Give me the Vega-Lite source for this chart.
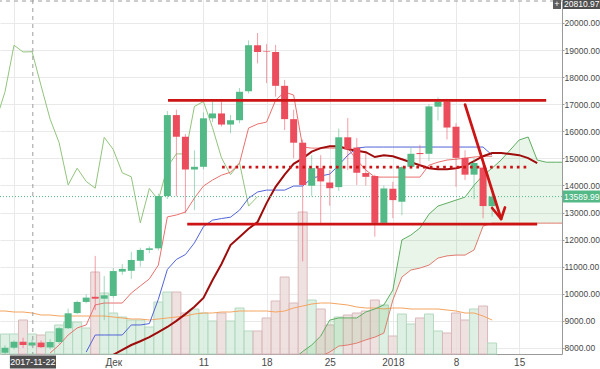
{
  "$schema": "https://vega.github.io/schema/vega-lite/v6.json",
  "width": 562,
  "height": 354,
  "autosize": {"type": "none"},
  "padding": {"left": 0, "top": 0, "right": 38, "bottom": 15},
  "background": "white",
  "config": {"view": {"stroke": null}, "font": "Liberation Sans", "axisY": {"labelOverlap": false, "labelFlush": false, "tickCount": 13}},
  "datasets": {
    "candles": [
      {"date": "2017-11-19", "open": 7820, "high": 8100, "low": 7780, "close": 8010, "volume": 20},
      {"date": "2017-11-20", "open": 8010, "high": 8280, "low": 7950, "close": 8230, "volume": 20},
      {"date": "2017-11-21", "open": 8230, "high": 8380, "low": 8000, "close": 8110, "volume": 34},
      {"date": "2017-11-22", "open": 8090, "high": 8300, "low": 8050, "close": 8200, "volume": 20},
      {"date": "2017-11-23", "open": 8200, "high": 8280, "low": 8000, "close": 8030, "volume": 19},
      {"date": "2017-11-24", "open": 8020, "high": 8330, "low": 7950, "close": 8220, "volume": 22},
      {"date": "2017-11-25", "open": 8220, "high": 8770, "low": 8150, "close": 8730, "volume": 29},
      {"date": "2017-11-26", "open": 8730, "high": 9450, "low": 8700, "close": 9280, "volume": 32},
      {"date": "2017-11-27", "open": 9290, "high": 9750, "low": 9250, "close": 9700, "volume": 32},
      {"date": "2017-11-28", "open": 9700, "high": 9980, "low": 9650, "close": 9860, "volume": 26},
      {"date": "2017-11-29", "open": 9890, "high": 11400, "low": 9400, "close": 9820, "volume": 82},
      {"date": "2017-11-30", "open": 9820, "high": 10660, "low": 9030, "close": 9945, "volume": 61},
      {"date": "2017-12-01", "open": 9920, "high": 10950, "low": 9850, "close": 10840, "volume": 41},
      {"date": "2017-12-02", "open": 10820, "high": 11100, "low": 10700, "close": 10920, "volume": 37},
      {"date": "2017-12-03", "open": 10850, "high": 11550, "low": 10550, "close": 11250, "volume": 34},
      {"date": "2017-12-04", "open": 11220, "high": 11700, "low": 11000, "close": 11620, "volume": 34},
      {"date": "2017-12-05", "open": 11620, "high": 11750, "low": 11500, "close": 11680, "volume": 27},
      {"date": "2017-12-06", "open": 11680, "high": 13700, "low": 11600, "close": 13610, "volume": 52},
      {"date": "2017-12-07", "open": 13610, "high": 16750, "low": 13500, "close": 16600, "volume": 62},
      {"date": "2017-12-08", "open": 16600, "high": 16800, "low": 13600, "close": 15800, "volume": 62},
      {"date": "2017-12-09", "open": 15800, "high": 15900, "low": 12980, "close": 14590, "volume": 41},
      {"date": "2017-12-10", "open": 14590, "high": 15300, "low": 13090, "close": 14690, "volume": 45},
      {"date": "2017-12-11", "open": 14690, "high": 16700, "low": 14600, "close": 16480, "volume": 41},
      {"date": "2017-12-12", "open": 16480, "high": 17100, "low": 16340, "close": 16660, "volume": 33},
      {"date": "2017-12-13", "open": 16660, "high": 17100, "low": 16180, "close": 16250, "volume": 41},
      {"date": "2017-12-14", "open": 16250, "high": 16600, "low": 15930, "close": 16410, "volume": 33},
      {"date": "2017-12-15", "open": 16410, "high": 17600, "low": 16300, "close": 17460, "volume": 46},
      {"date": "2017-12-16", "open": 17480, "high": 19360, "low": 17400, "close": 19180, "volume": 23},
      {"date": "2017-12-17", "open": 19180, "high": 19630, "low": 18510, "close": 18930, "volume": 23},
      {"date": "2017-12-18", "open": 18960, "high": 19220, "low": 17780, "close": 18940, "volume": 36},
      {"date": "2017-12-19", "open": 18930, "high": 19190, "low": 17280, "close": 17680, "volume": 53},
      {"date": "2017-12-20", "open": 17680, "high": 17900, "low": 16050, "close": 16450, "volume": 77},
      {"date": "2017-12-21", "open": 16450, "high": 16800, "low": 15010, "close": 15580, "volume": 51},
      {"date": "2017-12-22", "open": 15580, "high": 15700, "low": 11200, "close": 14020, "volume": 142},
      {"date": "2017-12-23", "open": 13990, "high": 15120, "low": 13590, "close": 14640, "volume": 54},
      {"date": "2017-12-24", "open": 14640, "high": 15120, "low": 12550, "close": 14150, "volume": 45},
      {"date": "2017-12-25", "open": 14110, "high": 14570, "low": 13250, "close": 13900, "volume": 29},
      {"date": "2017-12-26", "open": 13940, "high": 16100, "low": 13800, "close": 15780, "volume": 37},
      {"date": "2017-12-27", "open": 15780, "high": 16490, "low": 14570, "close": 15330, "volume": 39},
      {"date": "2017-12-28", "open": 15400, "high": 15750, "low": 14020, "close": 14470, "volume": 41},
      {"date": "2017-12-29", "open": 14460, "high": 15200, "low": 14000, "close": 14320, "volume": 43},
      {"date": "2017-12-30", "open": 14350, "high": 14400, "low": 12110, "close": 12620, "volume": 54},
      {"date": "2017-12-31", "open": 12620, "high": 14000, "low": 12600, "close": 13890, "volume": 49},
      {"date": "2018-01-01", "open": 13880, "high": 14140, "low": 12790, "close": 13460, "volume": 18},
      {"date": "2018-01-02", "open": 13400, "high": 14720, "low": 12900, "close": 14680, "volume": 40},
      {"date": "2018-01-03", "open": 14690, "high": 15400, "low": 14600, "close": 15170, "volume": 30},
      {"date": "2018-01-04", "open": 15200, "high": 15500, "low": 14700, "close": 15160, "volume": 36},
      {"date": "2018-01-05", "open": 15170, "high": 17000, "low": 14900, "close": 16920, "volume": 40},
      {"date": "2018-01-06", "open": 16910, "high": 17250, "low": 16400, "close": 17100, "volume": 23},
      {"date": "2018-01-07", "open": 17100, "high": 17200, "low": 15700, "close": 16140, "volume": 21},
      {"date": "2018-01-08", "open": 16170, "high": 16300, "low": 13950, "close": 15020, "volume": 41},
      {"date": "2018-01-09", "open": 15020, "high": 15300, "low": 14200, "close": 14400, "volume": 34},
      {"date": "2018-01-10", "open": 14400, "high": 15010, "low": 13500, "close": 14830, "volume": 45},
      {"date": "2018-01-11", "open": 14660, "high": 14900, "low": 12790, "close": 13240, "volume": 48},
      {"date": "2018-01-12", "open": 13240, "high": 13700, "low": 12850, "close": 13590, "volume": 11}
    ],
    "ind": [
      {"date": "2017-11-18", "chikou": 16410, "volma": 43},
      {"date": "2017-11-19", "chikou": 17460, "volma": 43},
      {"date": "2017-11-20", "chikou": 19180, "volma": 42},
      {"date": "2017-11-21", "chikou": 18930, "volma": 42},
      {"date": "2017-11-22", "chikou": 18940, "volma": 41},
      {"date": "2017-11-23", "chikou": 17680, "volma": 39},
      {"date": "2017-11-24", "chikou": 16450, "tenkan": 7815, "volma": 39},
      {"date": "2017-11-25", "chikou": 15580, "tenkan": 8110, "volma": 38},
      {"date": "2017-11-26", "chikou": 14020, "tenkan": 8480, "volma": 38},
      {"date": "2017-11-27", "chikou": 14640, "tenkan": 8740, "volma": 38},
      {"date": "2017-11-28", "chikou": 14150, "tenkan": 8850, "kijun": 7850, "volma": 38},
      {"date": "2017-11-29", "chikou": 13900, "tenkan": 9590, "kijun": 8480, "volma": 38},
      {"date": "2017-11-30", "chikou": 15780, "tenkan": 9660, "kijun": 8480, "volma": 38},
      {"date": "2017-12-01", "chikou": 15330, "tenkan": 9660, "kijun": 8480, "ma": 7750, "volma": 37},
      {"date": "2017-12-02", "chikou": 14470, "tenkan": 9660, "kijun": 8480, "ma": 7930, "volma": 36},
      {"date": "2017-12-03", "chikou": 14320, "tenkan": 10030, "kijun": 8850, "ma": 8110, "volma": 35},
      {"date": "2017-12-04", "chikou": 12620, "tenkan": 10290, "kijun": 8850, "ma": 8250, "volma": 35},
      {"date": "2017-12-05", "chikou": 13890, "tenkan": 10550, "kijun": 8900, "ma": 8400, "volma": 34},
      {"date": "2017-12-06", "chikou": 13460, "tenkan": 11060, "kijun": 9800, "ma": 8590, "volma": 35},
      {"date": "2017-12-07", "chikou": 14680, "tenkan": 12840, "kijun": 10900, "ma": 8775, "volma": 36},
      {"date": "2017-12-08", "chikou": 15170, "tenkan": 12910, "kijun": 11270, "ma": 9000, "volma": 37},
      {"date": "2017-12-09", "chikou": 15160, "tenkan": 13020, "kijun": 11450, "ma": 9250, "volma": 38},
      {"date": "2017-12-10", "chikou": 16920, "tenkan": 13535, "kijun": 11880, "ma": 9520, "volma": 40},
      {"date": "2017-12-11", "chikou": 17100, "tenkan": 13980, "kijun": 12480, "ma": 9845, "volma": 41},
      {"date": "2017-12-12", "chikou": 16140, "tenkan": 14200, "kijun": 12720, "ma": 10500, "volma": 41},
      {"date": "2017-12-13", "chikou": 15020, "tenkan": 14380, "kijun": 12780, "ma": 11100, "volma": 42},
      {"date": "2017-12-14", "chikou": 14400, "tenkan": 14490, "kijun": 12830, "ma": 11800, "volma": 42},
      {"date": "2017-12-15", "chikou": 14830, "tenkan": 14830, "kijun": 13090, "ma": 12100, "volma": 43},
      {"date": "2017-12-16", "chikou": 13240, "tenkan": 16120, "kijun": 13530, "ma": 12400, "volma": 43},
      {"date": "2017-12-17", "chikou": 13590, "tenkan": 16270, "kijun": 13760, "ma": 12650, "volma": 43},
      {"date": "2017-12-18", "tenkan": 16340, "kijun": 13830, "ma": 13350, "volma": 43},
      {"date": "2017-12-19", "tenkan": 17150, "kijun": 13830, "ma": 13950, "volma": 42},
      {"date": "2017-12-20", "tenkan": 17450, "kijun": 13830, "ma": 14400, "volma": 43},
      {"date": "2017-12-21", "tenkan": 17340, "kijun": 13980, "ma": 14800, "volma": 46, "spanA": 7600, "spanB": 7200},
      {"date": "2017-12-22", "tenkan": 15420, "kijun": 13980, "ma": 15000, "volma": 48, "spanA": 7870, "spanB": 7300},
      {"date": "2017-12-23", "tenkan": 15380, "kijun": 14270, "ma": 15250, "volma": 50, "spanA": 8110, "spanB": 7500},
      {"date": "2017-12-24", "tenkan": 15380, "kijun": 14350, "ma": 15380, "volma": 51, "spanA": 8440, "spanB": 7700},
      {"date": "2017-12-25", "tenkan": 15380, "kijun": 14420, "ma": 15450, "volma": 51, "spanA": 9030, "spanB": 7850},
      {"date": "2017-12-26", "tenkan": 15380, "kijun": 14750, "ma": 15450, "volma": 50, "spanA": 9110, "spanB": 8070},
      {"date": "2017-12-27", "tenkan": 15380, "kijun": 15120, "ma": 15350, "volma": 49, "spanA": 9110, "spanB": 8110},
      {"date": "2017-12-28", "tenkan": 14940, "kijun": 15380, "ma": 15280, "volma": 47, "spanA": 9110, "spanB": 8180},
      {"date": "2017-12-29", "tenkan": 14570, "kijun": 15420, "ma": 15230, "volma": 46, "spanA": 9330, "spanB": 8300},
      {"date": "2017-12-30", "tenkan": 14310, "kijun": 15420, "ma": 15050, "volma": 46, "spanA": 9440, "spanB": 8400},
      {"date": "2017-12-31", "tenkan": 14310, "kijun": 15420, "ma": 15120, "volma": 45, "spanA": 9590, "spanB": 8550},
      {"date": "2018-01-01", "tenkan": 14310, "kijun": 15420, "ma": 15080, "volma": 46, "spanA": 10140, "spanB": 9770},
      {"date": "2018-01-02", "tenkan": 14310, "kijun": 15420, "ma": 14970, "volma": 46, "spanA": 11990, "spanB": 10620},
      {"date": "2018-01-03", "tenkan": 14310, "kijun": 15420, "ma": 14860, "volma": 45, "spanA": 12170, "spanB": 10880},
      {"date": "2018-01-04", "tenkan": 14310, "kijun": 15420, "ma": 14750, "volma": 45, "spanA": 12430, "spanB": 10950},
      {"date": "2018-01-05", "tenkan": 14750, "kijun": 15420, "ma": 14640, "volma": 45, "spanA": 12940, "spanB": 11060},
      {"date": "2018-01-06", "tenkan": 14860, "kijun": 15420, "ma": 14600, "volma": 45, "spanA": 13240, "spanB": 11320},
      {"date": "2018-01-07", "tenkan": 14940, "kijun": 15420, "ma": 14600, "volma": 44, "spanA": 13350, "spanB": 11400},
      {"date": "2018-01-08", "tenkan": 14970, "kijun": 15420, "ma": 14640, "volma": 43, "spanA": 13460, "spanB": 11430},
      {"date": "2018-01-09", "tenkan": 15010, "kijun": 15420, "ma": 14720, "volma": 41, "spanA": 13570, "spanB": 11430},
      {"date": "2018-01-10", "tenkan": 15050, "kijun": 15420, "ma": 14900, "volma": 41, "spanA": 14010, "spanB": 11620},
      {"date": "2018-01-11", "tenkan": 15080, "kijun": 15420, "ma": 15080, "volma": 38, "spanA": 14380, "spanB": 12500},
      {"date": "2018-01-12", "tenkan": 15080, "kijun": 15120, "ma": 15200, "volma": 34, "spanA": 14640, "spanB": 12610},
      {"date": "2018-01-13", "ma": 15200, "spanA": 14940, "spanB": 12610},
      {"date": "2018-01-14", "ma": 15160, "spanA": 15310, "spanB": 12610},
      {"date": "2018-01-15", "ma": 15120, "spanA": 15680, "spanB": 12610},
      {"date": "2018-01-16", "ma": 15010, "spanA": 15790, "spanB": 12610},
      {"date": "2018-01-17", "ma": 14830, "spanA": 14940, "spanB": 12610},
      {"date": "2018-01-18", "spanA": 14860, "spanB": 12610},
      {"date": "2018-01-19", "spanA": 14860, "spanB": 12610},
      {"date": "2018-01-20", "spanA": 14860, "spanB": 12610}
    ],
    "levels": [
      {"start": "2017-12-07T01:40:00Z", "end": "2018-01-18T00:00:00Z", "price": 17140},
      {"start": "2017-12-09T04:50:00Z", "end": "2018-01-17T00:00:00Z", "price": 12570}
    ],
    "dotted": [
      {"start": "2017-12-13T01:30:00Z", "end": "2018-01-16T00:00:00Z", "price": 14680}
    ],
    "arrow": [
      {"part": "shaft", "ord": 1, "date": "2018-01-09T00:00:00Z", "price": 16990},
      {"part": "shaft", "ord": 2, "date": "2018-01-13T00:00:00Z", "price": 12763},
      {"part": "head", "ord": 1, "date": "2018-01-12T00:00:00Z", "price": 13169},
      {"part": "head", "ord": 2, "date": "2018-01-13T00:00:00Z", "price": 12763},
      {"part": "head", "ord": 3, "date": "2018-01-13T10:20:00Z", "price": 13190}
    ]
  },
  "layer": [
    {
      "layer": [
        {
          "data": {"name": "candles"},
          "mark": {"type": "bar", "width": 9, "strokeWidth": 1, "fillOpacity": 0.8},
          "encoding": {
            "x": {
              "field": "date", "type": "temporal",
              "scale": {"type": "utc", "padding": 0, "domain": [{"year": 2017, "month": 11, "date": 18, "hours": 10, "minutes": 40, "utc": true}, {"year": 2018, "month": 1, "date": 19, "hours": 18, "utc": true}]},
              "axis": {
                "orient": "bottom", "title": null,
                "values": [
                  {"year": 2017, "month": 11, "date": 20, "utc": true},
                  {"year": 2017, "month": 12, "date": 1, "utc": true},
                  {"year": 2017, "month": 12, "date": 11, "utc": true},
                  {"year": 2017, "month": 12, "date": 18, "utc": true},
                  {"year": 2017, "month": 12, "date": 25, "utc": true},
                  {"year": 2018, "month": 1, "date": 1, "utc": true},
                  {"year": 2018, "month": 1, "date": 8, "utc": true},
                  {"year": 2018, "month": 1, "date": 15, "utc": true}
                ],
                "labelExpr": "utcmonth(datum.value)==0 && utcdate(datum.value)==1 ? '2018' : (utcdate(datum.value)==1 ? 'Дек' : (utcmonth(datum.value)==10 ? '' : utcFormat(datum.value, '%-d')))",
                "grid": true, "gridColor": "#e9e9e9", "tickSize": 0, "domainColor": "#9a9a9a",
                "labelColor": "#4a4a4a", "labelFontSize": 10, "labelPadding": 3,
                "labelOverlap": false, "labelFlush": false
              }
            },
            "y": {"field": "volume", "type": "quantitative", "scale": {"domain": [0, 354], "nice": false, "zero": true}, "axis": null},
            "fill": {"condition": {"test": "datum.close >= datum.open", "value": "#d6ecdc"}, "value": "#ecd9da"},
            "stroke": {"condition": {"test": "datum.close >= datum.open", "value": "#b3d8bf"}, "value": "#d9b9bb"}
          }
        },
        {
          "data": {"name": "ind"},
          "mark": {"type": "line", "stroke": "#f4a460", "strokeWidth": 1, "clip": true},
          "encoding": {
            "x": {"field": "date", "type": "temporal", "title": null, "scale": {"type": "utc", "padding": 0, "domain": [{"year": 2017, "month": 11, "date": 18, "hours": 10, "minutes": 40, "utc": true}, {"year": 2018, "month": 1, "date": 19, "hours": 18, "utc": true}]}},
            "y": {"field": "volma", "type": "quantitative", "scale": {"domain": [0, 354], "nice": false, "zero": true}, "axis": null}
          }
        }
      ]
    },
    {
      "layer": [
        {
          "data": {"name": "ind"},
          "mark": {"type": "area", "fill": "#4caf50", "fillOpacity": 0.13, "clip": true},
          "encoding": {
            "x": {"field": "date", "type": "temporal", "title": null, "scale": {"type": "utc", "padding": 0, "domain": [{"year": 2017, "month": 11, "date": 18, "hours": 10, "minutes": 40, "utc": true}, {"year": 2018, "month": 1, "date": 19, "hours": 18, "utc": true}]}},
            "y": {"field": "spanA", "type": "quantitative", "scale": {"domain": [7778, 20849], "nice": false, "zero": false},
              "axis": {"orient": "right", "title": null, "values": [8000, 9000, 10000, 11000, 12000, 13000, 14000, 15000, 16000, 17000, 18000, 19000, 20000], "format": ".2f", "grid": true, "gridColor": "#e9e9e9", "tickSize": 2, "tickColor": "#9a9a9a", "domainColor": "#9a9a9a", "labelColor": "#4a4a4a", "labelFontSize": 8.5, "labelPadding": 0, "labelOverlap": false, "labelFlush": false}},
            "y2": {"field": "spanB"}
          }
        },
        {
          "data": {"name": "ind"},
          "mark": {"type": "line", "stroke": "#df7b6e", "strokeWidth": 1, "clip": true},
          "encoding": {
            "x": {"field": "date", "type": "temporal", "title": null, "scale": {"type": "utc", "padding": 0, "domain": [{"year": 2017, "month": 11, "date": 18, "hours": 10, "minutes": 40, "utc": true}, {"year": 2018, "month": 1, "date": 19, "hours": 18, "utc": true}]}},
            "y": {"field": "spanB", "type": "quantitative", "scale": {"domain": [7778, 20849], "nice": false, "zero": false},
              "axis": {"orient": "right", "title": null, "values": [8000, 9000, 10000, 11000, 12000, 13000, 14000, 15000, 16000, 17000, 18000, 19000, 20000], "format": ".2f", "grid": true, "gridColor": "#e9e9e9", "tickSize": 2, "tickColor": "#9a9a9a", "domainColor": "#9a9a9a", "labelColor": "#4a4a4a", "labelFontSize": 8.5, "labelPadding": 0, "labelOverlap": false, "labelFlush": false}}
          }
        },
        {
          "data": {"name": "ind"},
          "mark": {"type": "line", "stroke": "#5fae62", "strokeWidth": 1, "clip": true},
          "encoding": {
            "x": {"field": "date", "type": "temporal", "title": null, "scale": {"type": "utc", "padding": 0, "domain": [{"year": 2017, "month": 11, "date": 18, "hours": 10, "minutes": 40, "utc": true}, {"year": 2018, "month": 1, "date": 19, "hours": 18, "utc": true}]}},
            "y": {"field": "spanA", "type": "quantitative", "scale": {"domain": [7778, 20849], "nice": false, "zero": false},
              "axis": {"orient": "right", "title": null, "values": [8000, 9000, 10000, 11000, 12000, 13000, 14000, 15000, 16000, 17000, 18000, 19000, 20000], "format": ".2f", "grid": true, "gridColor": "#e9e9e9", "tickSize": 2, "tickColor": "#9a9a9a", "domainColor": "#9a9a9a", "labelColor": "#4a4a4a", "labelFontSize": 8.5, "labelPadding": 0, "labelOverlap": false, "labelFlush": false}}
          }
        },
        {
          "data": {"name": "ind"},
          "mark": {"type": "line", "stroke": "#93c47d", "strokeWidth": 1, "clip": true},
          "encoding": {
            "x": {"field": "date", "type": "temporal", "title": null, "scale": {"type": "utc", "padding": 0, "domain": [{"year": 2017, "month": 11, "date": 18, "hours": 10, "minutes": 40, "utc": true}, {"year": 2018, "month": 1, "date": 19, "hours": 18, "utc": true}]}},
            "y": {"field": "chikou", "type": "quantitative", "scale": {"domain": [7778, 20849], "nice": false, "zero": false},
              "axis": {"orient": "right", "title": null, "values": [8000, 9000, 10000, 11000, 12000, 13000, 14000, 15000, 16000, 17000, 18000, 19000, 20000], "format": ".2f", "grid": true, "gridColor": "#e9e9e9", "tickSize": 2, "tickColor": "#9a9a9a", "domainColor": "#9a9a9a", "labelColor": "#4a4a4a", "labelFontSize": 8.5, "labelPadding": 0, "labelOverlap": false, "labelFlush": false}}
          }
        },
        {
          "data": {"name": "ind"},
          "mark": {"type": "line", "stroke": "#5063d8", "strokeWidth": 1, "clip": true},
          "encoding": {
            "x": {"field": "date", "type": "temporal", "title": null, "scale": {"type": "utc", "padding": 0, "domain": [{"year": 2017, "month": 11, "date": 18, "hours": 10, "minutes": 40, "utc": true}, {"year": 2018, "month": 1, "date": 19, "hours": 18, "utc": true}]}},
            "y": {"field": "kijun", "type": "quantitative", "scale": {"domain": [7778, 20849], "nice": false, "zero": false},
              "axis": {"orient": "right", "title": null, "values": [8000, 9000, 10000, 11000, 12000, 13000, 14000, 15000, 16000, 17000, 18000, 19000, 20000], "format": ".2f", "grid": true, "gridColor": "#e9e9e9", "tickSize": 2, "tickColor": "#9a9a9a", "domainColor": "#9a9a9a", "labelColor": "#4a4a4a", "labelFontSize": 8.5, "labelPadding": 0, "labelOverlap": false, "labelFlush": false}}
          }
        },
        {
          "data": {"name": "ind"},
          "mark": {"type": "line", "stroke": "#e8716e", "strokeWidth": 1, "clip": true},
          "encoding": {
            "x": {"field": "date", "type": "temporal", "title": null, "scale": {"type": "utc", "padding": 0, "domain": [{"year": 2017, "month": 11, "date": 18, "hours": 10, "minutes": 40, "utc": true}, {"year": 2018, "month": 1, "date": 19, "hours": 18, "utc": true}]}},
            "y": {"field": "tenkan", "type": "quantitative", "scale": {"domain": [7778, 20849], "nice": false, "zero": false},
              "axis": {"orient": "right", "title": null, "values": [8000, 9000, 10000, 11000, 12000, 13000, 14000, 15000, 16000, 17000, 18000, 19000, 20000], "format": ".2f", "grid": true, "gridColor": "#e9e9e9", "tickSize": 2, "tickColor": "#9a9a9a", "domainColor": "#9a9a9a", "labelColor": "#4a4a4a", "labelFontSize": 8.5, "labelPadding": 0, "labelOverlap": false, "labelFlush": false}}
          }
        },
        {
          "data": {"name": "ind"},
          "mark": {"type": "line", "stroke": "#9e0c0c", "strokeWidth": 2, "clip": true},
          "encoding": {
            "x": {"field": "date", "type": "temporal", "title": null, "scale": {"type": "utc", "padding": 0, "domain": [{"year": 2017, "month": 11, "date": 18, "hours": 10, "minutes": 40, "utc": true}, {"year": 2018, "month": 1, "date": 19, "hours": 18, "utc": true}]}},
            "y": {"field": "ma", "type": "quantitative", "scale": {"domain": [7778, 20849], "nice": false, "zero": false},
              "axis": {"orient": "right", "title": null, "values": [8000, 9000, 10000, 11000, 12000, 13000, 14000, 15000, 16000, 17000, 18000, 19000, 20000], "format": ".2f", "grid": true, "gridColor": "#e9e9e9", "tickSize": 2, "tickColor": "#9a9a9a", "domainColor": "#9a9a9a", "labelColor": "#4a4a4a", "labelFontSize": 8.5, "labelPadding": 0, "labelOverlap": false, "labelFlush": false}}
          }
        },
        {
          "data": {"values": [{"label": "13589.99", "price": 13589.99}]},
          "mark": {"type": "rule", "stroke": "#53b987", "strokeWidth": 1, "strokeDash": [1, 2]},
          "encoding": {
            "y": {"field": "price", "type": "quantitative", "scale": {"domain": [7778, 20849], "nice": false, "zero": false},
              "axis": {"orient": "right", "title": null, "values": [8000, 9000, 10000, 11000, 12000, 13000, 14000, 15000, 16000, 17000, 18000, 19000, 20000], "format": ".2f", "grid": true, "gridColor": "#e9e9e9", "tickSize": 2, "tickColor": "#9a9a9a", "domainColor": "#9a9a9a", "labelColor": "#4a4a4a", "labelFontSize": 8.5, "labelPadding": 0, "labelOverlap": false, "labelFlush": false}}
          }
        },
        {
          "data": {"name": "candles"},
          "mark": {"type": "rule", "strokeWidth": 1, "opacity": 0.55},
          "encoding": {
            "x": {"field": "date", "type": "temporal", "title": null, "scale": {"type": "utc", "padding": 0, "domain": [{"year": 2017, "month": 11, "date": 18, "hours": 10, "minutes": 40, "utc": true}, {"year": 2018, "month": 1, "date": 19, "hours": 18, "utc": true}]}},
            "y": {"field": "low", "type": "quantitative", "scale": {"domain": [7778, 20849], "nice": false, "zero": false},
              "axis": {"orient": "right", "title": null, "values": [8000, 9000, 10000, 11000, 12000, 13000, 14000, 15000, 16000, 17000, 18000, 19000, 20000], "format": ".2f", "grid": true, "gridColor": "#e9e9e9", "tickSize": 2, "tickColor": "#9a9a9a", "domainColor": "#9a9a9a", "labelColor": "#4a4a4a", "labelFontSize": 8.5, "labelPadding": 0, "labelOverlap": false, "labelFlush": false}},
            "y2": {"field": "high"},
            "color": {"condition": {"test": "datum.close >= datum.open", "value": "#53b987"}, "value": "#eb4d5c"}
          }
        },
        {
          "data": {"name": "candles"},
          "mark": {"type": "bar", "width": 7},
          "encoding": {
            "x": {"field": "date", "type": "temporal", "title": null, "scale": {"type": "utc", "padding": 0, "domain": [{"year": 2017, "month": 11, "date": 18, "hours": 10, "minutes": 40, "utc": true}, {"year": 2018, "month": 1, "date": 19, "hours": 18, "utc": true}]}},
            "y": {"field": "open", "type": "quantitative", "scale": {"domain": [7778, 20849], "nice": false, "zero": false},
              "axis": {"orient": "right", "title": null, "values": [8000, 9000, 10000, 11000, 12000, 13000, 14000, 15000, 16000, 17000, 18000, 19000, 20000], "format": ".2f", "grid": true, "gridColor": "#e9e9e9", "tickSize": 2, "tickColor": "#9a9a9a", "domainColor": "#9a9a9a", "labelColor": "#4a4a4a", "labelFontSize": 8.5, "labelPadding": 0, "labelOverlap": false, "labelFlush": false}},
            "y2": {"field": "close"},
            "color": {"condition": {"test": "datum.close >= datum.open", "value": "#53b987"}, "value": "#eb4d5c"}
          }
        },
        {
          "data": {"name": "dotted"},
          "mark": {"type": "rule", "stroke": "#cc1414", "strokeWidth": 2.7, "strokeDash": [2.7, 4]},
          "encoding": {
            "x": {"field": "start", "type": "temporal", "title": null, "scale": {"type": "utc", "padding": 0, "domain": [{"year": 2017, "month": 11, "date": 18, "hours": 10, "minutes": 40, "utc": true}, {"year": 2018, "month": 1, "date": 19, "hours": 18, "utc": true}]}},
            "x2": {"field": "end"},
            "y": {"field": "price", "type": "quantitative", "scale": {"domain": [7778, 20849], "nice": false, "zero": false},
              "axis": {"orient": "right", "title": null, "values": [8000, 9000, 10000, 11000, 12000, 13000, 14000, 15000, 16000, 17000, 18000, 19000, 20000], "format": ".2f", "grid": true, "gridColor": "#e9e9e9", "tickSize": 2, "tickColor": "#9a9a9a", "domainColor": "#9a9a9a", "labelColor": "#4a4a4a", "labelFontSize": 8.5, "labelPadding": 0, "labelOverlap": false, "labelFlush": false}}
          }
        },
        {
          "data": {"name": "levels"},
          "mark": {"type": "rule", "stroke": "#cc1414", "strokeWidth": 2.7},
          "encoding": {
            "x": {"field": "start", "type": "temporal", "title": null, "scale": {"type": "utc", "padding": 0, "domain": [{"year": 2017, "month": 11, "date": 18, "hours": 10, "minutes": 40, "utc": true}, {"year": 2018, "month": 1, "date": 19, "hours": 18, "utc": true}]}},
            "x2": {"field": "end"},
            "y": {"field": "price", "type": "quantitative", "scale": {"domain": [7778, 20849], "nice": false, "zero": false},
              "axis": {"orient": "right", "title": null, "values": [8000, 9000, 10000, 11000, 12000, 13000, 14000, 15000, 16000, 17000, 18000, 19000, 20000], "format": ".2f", "grid": true, "gridColor": "#e9e9e9", "tickSize": 2, "tickColor": "#9a9a9a", "domainColor": "#9a9a9a", "labelColor": "#4a4a4a", "labelFontSize": 8.5, "labelPadding": 0, "labelOverlap": false, "labelFlush": false}}
          }
        },
        {
          "data": {"name": "arrow"},
          "mark": {"type": "line", "stroke": "#cc1414", "strokeWidth": 2.7, "strokeCap": "round", "strokeJoin": "round"},
          "encoding": {
            "x": {"field": "date", "type": "temporal", "title": null, "scale": {"type": "utc", "padding": 0, "domain": [{"year": 2017, "month": 11, "date": 18, "hours": 10, "minutes": 40, "utc": true}, {"year": 2018, "month": 1, "date": 19, "hours": 18, "utc": true}]}},
            "y": {"field": "price", "type": "quantitative", "scale": {"domain": [7778, 20849], "nice": false, "zero": false},
              "axis": {"orient": "right", "title": null, "values": [8000, 9000, 10000, 11000, 12000, 13000, 14000, 15000, 16000, 17000, 18000, 19000, 20000], "format": ".2f", "grid": true, "gridColor": "#e9e9e9", "tickSize": 2, "tickColor": "#9a9a9a", "domainColor": "#9a9a9a", "labelColor": "#4a4a4a", "labelFontSize": 8.5, "labelPadding": 0, "labelOverlap": false, "labelFlush": false}},
            "detail": {"field": "part"},
            "order": {"field": "ord"}
          }
        },
        {
          "data": {"values": [{"label": "crosshair"}]},
          "mark": {"type": "rule", "stroke": "#9c9c9c", "strokeWidth": 1, "strokeDash": [4, 4]},
          "encoding": {
            "x": {"datum": {"year": 2017, "month": 11, "date": 22, "hours": 2, "utc": true}, "type": "temporal", "title": null, "scale": {"type": "utc", "padding": 0, "domain": [{"year": 2017, "month": 11, "date": 18, "hours": 10, "minutes": 40, "utc": true}, {"year": 2018, "month": 1, "date": 19, "hours": 18, "utc": true}]}}
          }
        },
        {
          "data": {"values": [{"label": "crosshair", "price": 20810.97}]},
          "mark": {"type": "rule", "stroke": "#9c9c9c", "strokeWidth": 1, "strokeDash": [4, 4]},
          "encoding": {
            "y": {"field": "price", "type": "quantitative", "scale": {"domain": [7778, 20849], "nice": false, "zero": false},
              "axis": {"orient": "right", "title": null, "values": [8000, 9000, 10000, 11000, 12000, 13000, 14000, 15000, 16000, 17000, 18000, 19000, 20000], "format": ".2f", "grid": true, "gridColor": "#e9e9e9", "tickSize": 2, "tickColor": "#9a9a9a", "domainColor": "#9a9a9a", "labelColor": "#4a4a4a", "labelFontSize": 8.5, "labelPadding": 0, "labelOverlap": false, "labelFlush": false}}
          }
        },
        {
          "data": {"values": [{"label": "13589.99", "price": 13589.99}]},
          "layer": [
            {
              "mark": {"type": "rule", "stroke": "#53b987", "strokeWidth": 12, "strokeCap": "butt", "clip": false},
              "encoding": {
                "x": {"datum": {"year": 2018, "month": 1, "date": 19, "hours": 20, "minutes": 40, "utc": true}, "type": "temporal", "title": null, "scale": {"type": "utc", "padding": 0, "domain": [{"year": 2017, "month": 11, "date": 18, "hours": 10, "minutes": 40, "utc": true}, {"year": 2018, "month": 1, "date": 19, "hours": 18, "utc": true}]}},
                "x2": {"datum": {"year": 2018, "month": 1, "date": 23, "hours": 23, "utc": true}},
                "y": {"field": "price", "type": "quantitative", "scale": {"domain": [7778, 20849], "nice": false, "zero": false},
                  "axis": {"orient": "right", "title": null, "values": [8000, 9000, 10000, 11000, 12000, 13000, 14000, 15000, 16000, 17000, 18000, 19000, 20000], "format": ".2f", "grid": true, "gridColor": "#e9e9e9", "tickSize": 2, "tickColor": "#9a9a9a", "domainColor": "#9a9a9a", "labelColor": "#4a4a4a", "labelFontSize": 8.5, "labelPadding": 0, "labelOverlap": false, "labelFlush": false}}
              }
            },
            {
              "mark": {"type": "text", "align": "left", "baseline": "middle", "dx": 1, "fontSize": 8.5, "fill": "white", "clip": false},
              "encoding": {
                "x": {"datum": {"year": 2018, "month": 1, "date": 19, "hours": 20, "minutes": 40, "utc": true}, "type": "temporal", "title": null, "scale": {"type": "utc", "padding": 0, "domain": [{"year": 2017, "month": 11, "date": 18, "hours": 10, "minutes": 40, "utc": true}, {"year": 2018, "month": 1, "date": 19, "hours": 18, "utc": true}]}},
                "y": {"field": "price", "type": "quantitative", "scale": {"domain": [7778, 20849], "nice": false, "zero": false},
                  "axis": {"orient": "right", "title": null, "values": [8000, 9000, 10000, 11000, 12000, 13000, 14000, 15000, 16000, 17000, 18000, 19000, 20000], "format": ".2f", "grid": true, "gridColor": "#e9e9e9", "tickSize": 2, "tickColor": "#9a9a9a", "domainColor": "#9a9a9a", "labelColor": "#4a4a4a", "labelFontSize": 8.5, "labelPadding": 0, "labelOverlap": false, "labelFlush": false}},
                "text": {"field": "label"}
              }
            }
          ]
        },
        {
          "data": {"values": [{"label": "20810.97", "price": 20810.97}]},
          "layer": [
            {
              "mark": {"type": "rule", "stroke": "#4f4f4f", "strokeWidth": 16, "strokeCap": "butt", "clip": false},
              "encoding": {
                "x": {"datum": {"year": 2018, "month": 1, "date": 19, "hours": 20, "minutes": 40, "utc": true}, "type": "temporal", "title": null, "scale": {"type": "utc", "padding": 0, "domain": [{"year": 2017, "month": 11, "date": 18, "hours": 10, "minutes": 40, "utc": true}, {"year": 2018, "month": 1, "date": 19, "hours": 18, "utc": true}]}},
                "x2": {"datum": {"year": 2018, "month": 1, "date": 23, "hours": 23, "utc": true}},
                "y": {"field": "price", "type": "quantitative", "scale": {"domain": [7778, 20849], "nice": false, "zero": false},
                  "axis": {"orient": "right", "title": null, "values": [8000, 9000, 10000, 11000, 12000, 13000, 14000, 15000, 16000, 17000, 18000, 19000, 20000], "format": ".2f", "grid": true, "gridColor": "#e9e9e9", "tickSize": 2, "tickColor": "#9a9a9a", "domainColor": "#9a9a9a", "labelColor": "#4a4a4a", "labelFontSize": 8.5, "labelPadding": 0, "labelOverlap": false, "labelFlush": false}}
              }
            },
            {
              "mark": {"type": "text", "align": "left", "baseline": "middle", "dx": 1, "dy": 3, "fontSize": 8.5, "fill": "white", "clip": false},
              "encoding": {
                "x": {"datum": {"year": 2018, "month": 1, "date": 19, "hours": 20, "minutes": 40, "utc": true}, "type": "temporal", "title": null, "scale": {"type": "utc", "padding": 0, "domain": [{"year": 2017, "month": 11, "date": 18, "hours": 10, "minutes": 40, "utc": true}, {"year": 2018, "month": 1, "date": 19, "hours": 18, "utc": true}]}},
                "y": {"field": "price", "type": "quantitative", "scale": {"domain": [7778, 20849], "nice": false, "zero": false},
                  "axis": {"orient": "right", "title": null, "values": [8000, 9000, 10000, 11000, 12000, 13000, 14000, 15000, 16000, 17000, 18000, 19000, 20000], "format": ".2f", "grid": true, "gridColor": "#e9e9e9", "tickSize": 2, "tickColor": "#9a9a9a", "domainColor": "#9a9a9a", "labelColor": "#4a4a4a", "labelFontSize": 8.5, "labelPadding": 0, "labelOverlap": false, "labelFlush": false}},
                "text": {"field": "label"}
              }
            },
            {
              "mark": {"type": "rule", "stroke": "#5c5c5c", "strokeWidth": 16, "strokeCap": "butt", "clip": false},
              "encoding": {
                "x": {"datum": {"year": 2018, "month": 1, "date": 18, "hours": 18, "utc": true}, "type": "temporal", "title": null, "scale": {"type": "utc", "padding": 0, "domain": [{"year": 2017, "month": 11, "date": 18, "hours": 10, "minutes": 40, "utc": true}, {"year": 2018, "month": 1, "date": 19, "hours": 18, "utc": true}]}},
                "x2": {"datum": {"year": 2018, "month": 1, "date": 19, "hours": 15, "minutes": 20, "utc": true}},
                "y": {"field": "price", "type": "quantitative", "scale": {"domain": [7778, 20849], "nice": false, "zero": false},
                  "axis": {"orient": "right", "title": null, "values": [8000, 9000, 10000, 11000, 12000, 13000, 14000, 15000, 16000, 17000, 18000, 19000, 20000], "format": ".2f", "grid": true, "gridColor": "#e9e9e9", "tickSize": 2, "tickColor": "#9a9a9a", "domainColor": "#9a9a9a", "labelColor": "#4a4a4a", "labelFontSize": 8.5, "labelPadding": 0, "labelOverlap": false, "labelFlush": false}}
              }
            },
            {
              "mark": {"type": "text", "align": "center", "baseline": "middle", "dy": 3, "fontSize": 9, "fill": "white", "clip": false},
              "encoding": {
                "x": {"datum": {"year": 2018, "month": 1, "date": 19, "hours": 4, "minutes": 40, "utc": true}, "type": "temporal", "title": null, "scale": {"type": "utc", "padding": 0, "domain": [{"year": 2017, "month": 11, "date": 18, "hours": 10, "minutes": 40, "utc": true}, {"year": 2018, "month": 1, "date": 19, "hours": 18, "utc": true}]}},
                "y": {"field": "price", "type": "quantitative", "scale": {"domain": [7778, 20849], "nice": false, "zero": false},
                  "axis": {"orient": "right", "title": null, "values": [8000, 9000, 10000, 11000, 12000, 13000, 14000, 15000, 16000, 17000, 18000, 19000, 20000], "format": ".2f", "grid": true, "gridColor": "#e9e9e9", "tickSize": 2, "tickColor": "#9a9a9a", "domainColor": "#9a9a9a", "labelColor": "#4a4a4a", "labelFontSize": 8.5, "labelPadding": 0, "labelOverlap": false, "labelFlush": false}},
                "text": {"value": "+"}
              }
            }
          ]
        },
        {
          "data": {"values": [{"label": "2017-11-22", "price": 7483}]},
          "layer": [
            {
              "mark": {"type": "rule", "stroke": "#4f4f4f", "strokeWidth": 13, "strokeCap": "butt", "clip": false},
              "encoding": {
                "x": {"datum": {"year": 2017, "month": 11, "date": 19, "hours": 13, "utc": true}, "type": "temporal", "title": null, "scale": {"type": "utc", "padding": 0, "domain": [{"year": 2017, "month": 11, "date": 18, "hours": 10, "minutes": 40, "utc": true}, {"year": 2018, "month": 1, "date": 19, "hours": 18, "utc": true}]}},
                "x2": {"datum": {"year": 2017, "month": 11, "date": 24, "hours": 15, "minutes": 40, "utc": true}},
                "y": {"field": "price", "type": "quantitative", "scale": {"domain": [7778, 20849], "nice": false, "zero": false},
                  "axis": {"orient": "right", "title": null, "values": [8000, 9000, 10000, 11000, 12000, 13000, 14000, 15000, 16000, 17000, 18000, 19000, 20000], "format": ".2f", "grid": true, "gridColor": "#e9e9e9", "tickSize": 2, "tickColor": "#9a9a9a", "domainColor": "#9a9a9a", "labelColor": "#4a4a4a", "labelFontSize": 8.5, "labelPadding": 0, "labelOverlap": false, "labelFlush": false}}
              }
            },
            {
              "mark": {"type": "text", "align": "center", "baseline": "middle", "fontSize": 9, "fill": "white", "clip": false},
              "encoding": {
                "x": {"datum": {"year": 2017, "month": 11, "date": 22, "hours": 2, "utc": true}, "type": "temporal", "title": null, "scale": {"type": "utc", "padding": 0, "domain": [{"year": 2017, "month": 11, "date": 18, "hours": 10, "minutes": 40, "utc": true}, {"year": 2018, "month": 1, "date": 19, "hours": 18, "utc": true}]}},
                "y": {"field": "price", "type": "quantitative", "scale": {"domain": [7778, 20849], "nice": false, "zero": false},
                  "axis": {"orient": "right", "title": null, "values": [8000, 9000, 10000, 11000, 12000, 13000, 14000, 15000, 16000, 17000, 18000, 19000, 20000], "format": ".2f", "grid": true, "gridColor": "#e9e9e9", "tickSize": 2, "tickColor": "#9a9a9a", "domainColor": "#9a9a9a", "labelColor": "#4a4a4a", "labelFontSize": 8.5, "labelPadding": 0, "labelOverlap": false, "labelFlush": false}},
                "text": {"field": "label"}
              }
            }
          ]
        }
      ]
    }
  ],
  "resolve": {"scale": {"y": "independent"}}
}
